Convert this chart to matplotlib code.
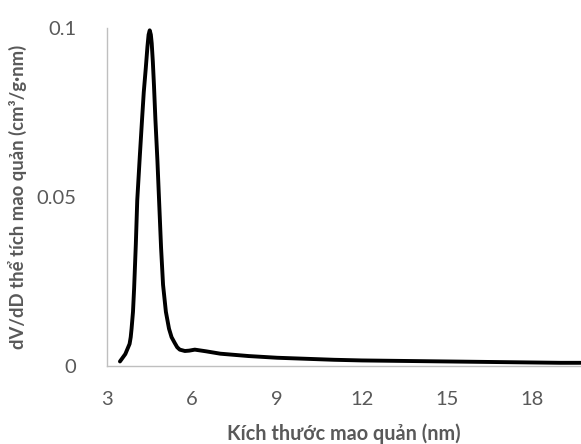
import matplotlib.pyplot as plt

plt.rcParams['font.family'] = ['Lato', 'DejaVu Sans']

# pore size distribution (BJH)
pore_size = [3.46, 3.65, 3.80, 3.84, 3.87, 3.92, 3.96, 4.02, 4.07, 4.16, 4.24, 4.30, 4.37, 4.43, 4.47,
             4.51, 4.55, 4.58, 4.62, 4.66, 4.71, 4.78, 4.84, 4.91, 4.98, 5.08, 5.19, 5.28, 5.39, 5.48,
             5.57, 5.75, 5.90, 6.10, 6.50, 7.0, 8.0,
             9.0, 10.0, 11.0, 12.0, 13.0, 14.0, 15.0, 16.0, 17.0, 18.0, 19.0, 19.7]
dv_dd = [0.0013, 0.0035, 0.0065, 0.0085, 0.011, 0.016, 0.023, 0.036, 0.049, 0.062, 0.073, 0.081, 0.088, 0.0945, 0.098,
         0.0993, 0.098, 0.0955, 0.090, 0.083, 0.073, 0.061, 0.049, 0.035, 0.024, 0.016, 0.011, 0.0085, 0.0068, 0.0055,
         0.0048, 0.0044, 0.0045, 0.0048, 0.0043, 0.0036, 0.0029,
         0.0024, 0.0021, 0.0018, 0.0016, 0.0015, 0.0014, 0.0013, 0.0012, 0.0011, 0.0010, 0.0009, 0.0009]

xticks = [3, 6, 9, 12, 15, 18]
yticks = [0, 0.05, 0.1]
ytick_labels = ['0', '0.05', '0.1']

fig = plt.figure(figsize=(5.81, 4.44), dpi=100)
ax = fig.add_axes([0.184, 0.176, 0.816, 0.761])

ax.plot(pore_size, dv_dd, color='black', lw=2.8, solid_capstyle='round', solid_joinstyle='round')

ax.set_xlim(3, 19.72)
ax.set_ylim(0, 0.1)
ax.set_xticks(xticks)
ax.set_yticks(yticks)
ax.set_yticklabels(ytick_labels)

gray = '#595959'
ax.tick_params(length=0, labelsize=14.5, labelcolor=gray)
ax.tick_params(axis='x', pad=18)
ax.tick_params(axis='y', pad=22)
for s in ['top', 'right']:
    ax.spines[s].set_visible(False)
for s in ['left', 'bottom']:
    ax.spines[s].set_color('#bfbfbf')
    ax.spines[s].set_linewidth(1)

ax.set_xlabel('Kích thước mao quản (nm)', fontsize=14.3, fontweight='bold', color=gray, labelpad=11)
ax.set_ylabel('dV/dD thể tích mao quản (cm³/g·nm)', fontsize=13.3, fontweight='bold', color=gray, labelpad=7)

fig.savefig('out.png', dpi=100)
